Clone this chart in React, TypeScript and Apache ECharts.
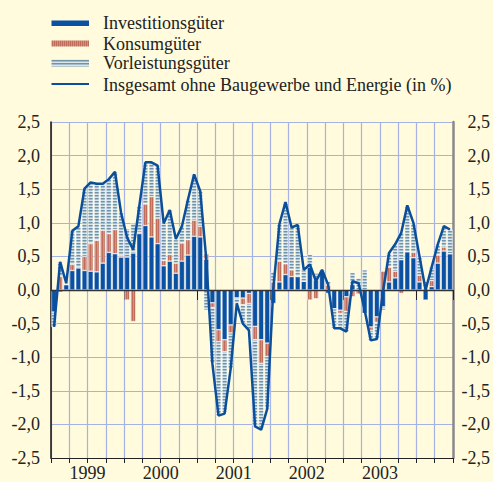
import React, { useEffect, useRef } from 'react';
import * as echarts from 'echarts';

const years = ['1999', '2000', '2001', '2002', '2003', '2004'];
const monthNums = ['01', '02', '03', '04', '05', '06', '07', '08', '09', '10', '11', '12'];
const yearLabels = ['1999', '2000', '2001', '2002', '2003'];

// Jan 1999 .. Jun 2004 (66 months)
const categories: string[] = [];
years.forEach((y) => monthNums.forEach((m) => { if (categories.length < 66) categories.push(y + '-' + m); }));

const investition = [
  -0.33, -0.03, 0.08, 0.29, 0.33, 0.29, 0.28, 0.27, 0.4, 0.56, 0.54, 0.49,
  0.49, 0.55, 0.84, 0.96, 0.79, 0.69, 0.36, 0.43, 0.25, 0.43, 0.52, 0.8,
  0.79, 0.46, -0.19, -0.59, -0.74, -0.52, -0.12, -0.12, -0.05, -0.54, -0.74, -0.79,
  -0.2, 0.12, 0.23, 0.2, 0.2, 0.13, 0.34, 0.15, 0.28, -0.05, -0.28, -0.3,
  -0.1, 0.08, 0, -0.35, -0.55, -0.4, -0.25, 0.12, 0.18, 0.45, 0.57, 0.48,
  0.12, -0.15, 0.05, 0.4, 0.58, 0.54,
];
const konsum = [
  0, 0.2, 0, 0.09, 0, 0.21, 0.41, 0.47, 0.49, 0.28, 0.36, 0.02,
  -0.15, -0.47, 0.02, 0.32, 0.6, 0.38, 0.08, 0.1, 0.15, 0.27, 0.23, 0.24,
  0.16, 0.08, -0.07, -0.18, -0.18, -0.12, 0, -0.1, -0.15, -0.2, -0.35, -0.2,
  0.12, 0.31, 0.16, 0.1, 0, 0, -0.15, -0.13, 0, 0.07, 0, -0.05,
  -0.22, -0.1, -0.06, 0, -0.05, -0.08, 0.28, 0.22, 0.1, -0.05, 0, 0.08,
  0.1, 0.03, 0.09, 0.12, 0.06, 0,
];
const vorleistung = [
  -0.22, 0.22, 0.02, 0.5, 0.62, 1.01, 0.91, 0.84, 0.69, 0.81, 0.86, 0.64,
  0.42, 0.45, 0.4, 0.62, 0.51, 0.78, 0.56, 0.66, 0.35, 0.25, 0.6, 0.68,
  0.52, -0.3, -0.83, -1.1, -0.9, -0.53, -0.08, -0.28, -0.4, -1.28, -0.98, -0.78,
  0.15, 0.55, 0.92, 0.63, 0.77, 0.17, 0.19, 0.1, 0.02, 0.06, -0.29, -0.22,
  -0.3, 0.18, 0.18, 0.3, -0.15, -0.25, -0.05, 0.21, 0.4, 0.4, 0.69, 0.44,
  0.28, 0.1, 0.2, 0.16, 0.31, 0.36,
];
const insgesamt = [
  -0.55, 0.42, 0.1, 0.88, 0.95, 1.51, 1.6, 1.58, 1.58, 1.65, 1.76, 1.15,
  0.78, 0.6, 1.25, 1.9, 1.9, 1.85, 0.99, 1.19, 0.76, 0.95, 1.35, 1.72,
  1.47, 0.45, -1.1, -1.87, -1.84, -1.17, -0.2, -0.5, -0.6, -2.03, -2.08, -1.77,
  0.02, 0.98, 1.31, 0.93, 0.97, 0.3, 0.38, 0.13, 0.3, 0.08, -0.57, -0.57,
  -0.62, 0.13, 0.1, -0.3, -0.75, -0.73, -0.03, 0.55, 0.68, 0.85, 1.26, 1.0,
  0.5, 0.0, 0.34, 0.68, 0.95, 0.9,
];

const seriesNames = [
  'Investitionsgüter',
  'Konsumgüter',
  'Vorleistungsgüter',
  'Insgesamt ohne Baugewerbe und Energie (in %)',
];

const BG = '#fffbdc';
const GRID = '#a6b3e2';
const BLUE = '#0a50a3';
const LINE = '#0b4e9a';
const TEXT = '#222222';
const FONT = "'Liberation Serif', 'Times New Roman', serif";

function stripes(colors: string[], vertical: boolean): HTMLCanvasElement {
  const c = document.createElement('canvas');
  c.width = vertical ? colors.length : 4;
  c.height = vertical ? 4 : colors.length;
  const ctx = c.getContext('2d')!;
  colors.forEach((col, i) => {
    ctx.fillStyle = col;
    if (vertical) ctx.fillRect(i, 0, 1, c.height);
    else ctx.fillRect(0, i, c.width, 1);
  });
  return c;
}

export default function App() {
  const ref = useRef<HTMLDivElement>(null);
  useEffect(() => {
    document.body.style.margin = '0';
    document.body.style.background = BG;
    if (!ref.current) return;
    const chart = echarts.init(ref.current, undefined, { renderer: 'svg' });
    const redPat = { image: stripes(['#c06d5c', '#d3907f'], true), repeat: 'repeat' };
    const lightPat = { image: stripes(['#6f93a8', '#a2bccb', '#dce6e8'], false), repeat: 'repeat' };
    const fmt = (v: number) => v.toFixed(1).replace('.', ',');
    const labelStyle = { fontFamily: FONT, fontSize: 18, color: TEXT };
    const legendY = [23, 43.5, 63, 84.5];
    const option: any = {
      animation: false,
      backgroundColor: BG,
      grid: { left: 51, top: 122, width: 404, height: 336, containLabel: false },
      xAxis: [
        {
          type: 'category', data: categories, position: 'bottom', boundaryGap: true,
          axisLine: { onZero: false, lineStyle: { color: '#222', width: 1 } },
          axisTick: { show: true, interval: 2, length: 5, lineStyle: { color: '#222', width: 1 } },
          axisLabel: { show: false },
          splitLine: { show: true, interval: 2, lineStyle: { color: GRID, width: 1.2 } },
        },
        {
          type: 'value', min: 0, max: 66, interval: 6, position: 'bottom',
          axisLine: { show: false }, axisTick: { show: false }, splitLine: { show: false },
          axisLabel: {
            ...labelStyle, margin: 6, showMinLabel: true, showMaxLabel: true,
            formatter: (v: number) => {
              const i = (v - 6) / 12;
              return Number.isInteger(i) && i >= 0 && i < yearLabels.length ? yearLabels[i] : '';
            },
          },
        },
        {
          type: 'value', min: 0, max: 66, interval: 12, position: 'bottom',
          axisLine: { show: false }, splitLine: { show: false }, axisLabel: { show: false },
          axisTick: { show: true, length: 10, lineStyle: { color: '#222', width: 1 } },
        },
      ],
      yAxis: [
        {
          type: 'value', min: -2.5, max: 2.5, interval: 0.5, position: 'left',
          axisLine: { show: true, onZero: false, lineStyle: { color: '#111', width: 1.5 } },
          axisTick: { show: false },
          axisLabel: { ...labelStyle, margin: 11, formatter: fmt },
          splitLine: { show: true, lineStyle: { color: GRID, width: 1.2 } },
        },
        {
          type: 'value', min: -2.5, max: 2.5, interval: 0.5, position: 'right',
          axisLine: { show: true, onZero: false, lineStyle: { color: '#8a8a8a', width: 2.5 } },
          axisTick: { show: false },
          axisLabel: { ...labelStyle, margin: 37, align: 'right', formatter: fmt },
          splitLine: { show: false },
        },
      ],
      series: [
        {
          name: seriesNames[0], type: 'bar', stack: 'g', data: investition, barWidth: '86%',
          itemStyle: { color: BLUE, borderColor: '#ffffff', borderWidth: 0.5 },
        },
        {
          name: seriesNames[1], type: 'bar', stack: 'g', data: konsum, barWidth: '86%',
          itemStyle: { color: redPat, borderColor: '#ffffff', borderWidth: 0.5 },
        },
        {
          name: seriesNames[2], type: 'bar', stack: 'g', data: vorleistung, barWidth: '86%',
          itemStyle: { color: lightPat, borderColor: '#ffffff', borderWidth: 0.5 },
        },
        {
          name: seriesNames[3], type: 'line', data: insgesamt, symbol: 'none', z: 5,
          lineStyle: { color: LINE, width: 2.5 },
          itemStyle: { color: LINE },
          markLine: {
            silent: true, symbol: ['none', 'none'], label: { show: false },
            lineStyle: { color: '#333', width: 1.3, type: 'solid' },
            data: [{ yAxis: 0 }],
          },
        },
      ],
      graphic: [
        { type: 'rect', shape: { x: 51.5, y: 20.5, width: 37.5, height: 5.5 }, style: { fill: BLUE } },
        { type: 'rect', shape: { x: 51.5, y: 40.5, width: 37.5, height: 6 }, style: { fill: redPat } },
        { type: 'rect', shape: { x: 51.5, y: 59.5, width: 37.5, height: 7 }, style: { fill: lightPat } },
        { type: 'line', shape: { x1: 51.5, y1: 84, x2: 89, y2: 84 }, style: { stroke: LINE, lineWidth: 2 } },
        ...seriesNames.map((n, i) => ({
          type: 'text', x: 103, y: legendY[i],
          style: { text: n, fill: TEXT, font: `18px ${FONT}`, textVerticalAlign: 'middle', textAlign: 'left' },
        })),
      ],
    };
    chart.setOption(option);
    return () => chart.dispose();
  }, []);
  return <div ref={ref} style={{ width: 493, height: 482 }} />;
}
